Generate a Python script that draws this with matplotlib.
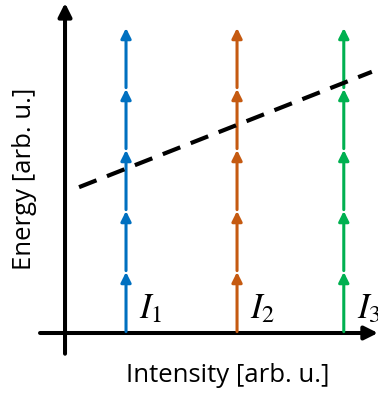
import matplotlib
matplotlib.use('Agg')
import matplotlib.pyplot as plt

plt.rcParams['mathtext.fontset'] = 'stix'

# photon ladders: intensity position of each ladder, photon energy, number of photons
intensities = [1.0, 2.82, 4.57]
ladder_labels = [r'$I_1$', r'$I_2$', r'$I_3$']
ladder_colors = ['#0070C0', '#C55A11', '#00B050']
photon_energy = 1.0
n_photons = 5

# threshold line E = e0 + slope * I
threshold_e0 = 2.30
threshold_slope = 0.394
threshold_range = [0.23, 5.03]

# axis extents
x_axis = [-0.41, 5.13]
y_axis = [-0.34, 5.41]

fig = plt.figure(figsize=(3.78, 3.94), dpi=100)
ax = fig.add_axes([0, 0, 1, 1])
ax.set_xlim(-1.066, 5.131)
ax.set_ylim(-1.0, 5.459)
ax.axis('off')

# coordinate axes with arrow heads
axis_arrow = dict(arrowstyle='-|>', color='black', lw=2.9,
                  mutation_scale=20, shrinkA=0, shrinkB=0)
ax.annotate('', xy=(x_axis[1], 0), xytext=(x_axis[0], 0), arrowprops=axis_arrow)
ax.annotate('', xy=(0, y_axis[1]), xytext=(0, y_axis[0]), arrowprops=axis_arrow)

# stacked photon arrows
for x, lab, c in zip(intensities, ladder_labels, ladder_colors):
    for k in range(n_photons):
        base = k * photon_energy
        tip = (k + 1) * photon_energy
        ax.annotate('', xy=(x, tip), xytext=(x, base),
                    arrowprops=dict(arrowstyle='-|>', color=c, lw=2.2,
                                    mutation_scale=15, shrinkA=1, shrinkB=0))
    ax.text(x + 0.22, 0.25, lab, fontsize=25, ha='left', va='baseline')

# threshold energy (dashed)
xs = threshold_range
ys = [threshold_e0 + threshold_slope * v for v in xs]
ax.plot(xs, ys, color='black', lw=3, linestyle=(0, (4.5, 2.7)), zorder=5)

fig.text(0.603, 0.048, 'Intensity [arb. u.]', fontsize=18.5, family='Open Sans',
         ha='center', va='center')
fig.text(0.066, 0.545, 'Energy [arb. u.]', fontsize=18.5, family='Open Sans',
         ha='center', va='center', rotation=90)

fig.savefig('out.png', dpi=100)
